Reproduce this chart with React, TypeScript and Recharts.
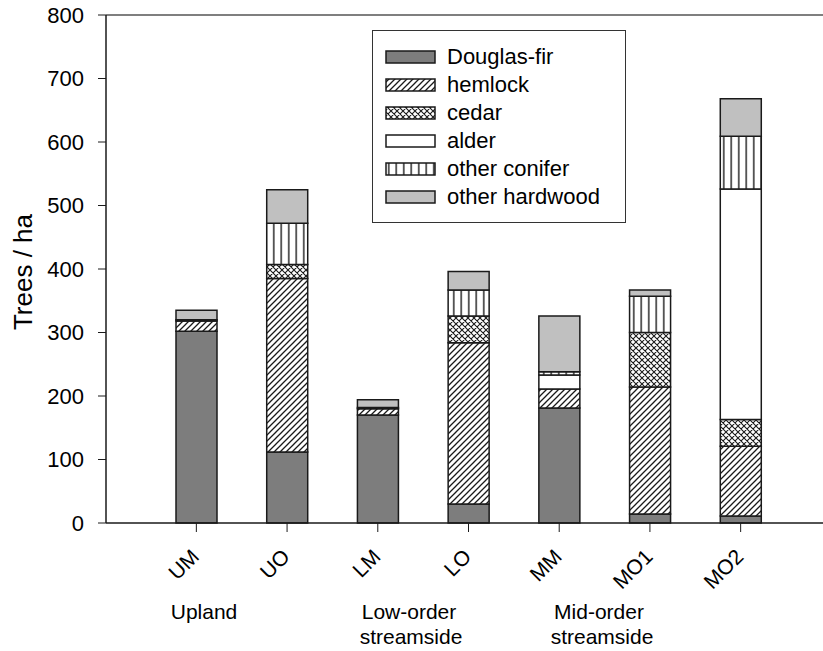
import { Bar, BarChart, ReferenceLine, XAxis, YAxis } from "recharts";

const sites = ["UM", "UO", "LM", "LO", "MM", "MO1", "MO2"];
const douglasFir = [302, 112, 170, 30, 181, 14, 11];
const hemlock = [16, 273, 10, 254, 30, 200, 110];
const cedar = [0, 22, 0, 42, 0, 86, 42];
const alder = [0, 0, 0, 0, 22, 0, 363];
const otherConifer = [2, 65, 2, 41, 5, 57, 83];
const otherHardwood = [15, 53, 12, 29, 88, 10, 59];
const yTicks = [0, 100, 200, 300, 400, 500, 600, 700, 800];

const SERIES = [
  { key: "df", name: "Douglas-fir", values: douglasFir, fill: "#7d7d7d" },
  { key: "hem", name: "hemlock", values: hemlock, fill: "url(#hatch)" },
  { key: "ced", name: "cedar", values: cedar, fill: "url(#cross)" },
  { key: "ald", name: "alder", values: alder, fill: "#ffffff" },
  { key: "con", name: "other conifer", values: otherConifer, fill: "url(#vert)" },
  { key: "hw", name: "other hardwood", values: otherHardwood, fill: "#c0c0c0" },
];

const data = sites.map((site, i) => {
  const row: Record<string, string | number> = { site };
  SERIES.forEach((s) => {
    row[s.key] = s.values[i];
  });
  return row;
});

const FONT = "'Liberation Sans', Arial, sans-serif";
const INK = "#1a1a1a";

function Patterns() {
  return (
    <svg width={0} height={0} style={{ position: "absolute" }}>
      <defs>
        <pattern id="hatch" patternUnits="userSpaceOnUse" width={6} height={6}>
          <rect width={6} height={6} fill="#fff" />
          <path d="M0,6 L6,0 M-1.5,1.5 L1.5,-1.5 M4.5,7.5 L7.5,4.5" stroke={INK} strokeWidth={1.3} />
        </pattern>
        <pattern id="cross" patternUnits="userSpaceOnUse" width={6} height={6}>
          <rect width={6} height={6} fill="#fff" />
          <path d="M0,6 L6,0 M-1.5,1.5 L1.5,-1.5 M4.5,7.5 L7.5,4.5 M0,0 L6,6 M-1.5,4.5 L1.5,7.5 M4.5,-1.5 L7.5,1.5" stroke={INK} strokeWidth={1.1} />
        </pattern>
        <pattern id="vert" patternUnits="userSpaceOnUse" width={7.5} height={8}>
          <rect width={7.5} height={8} fill="#fff" />
          <path d="M3.75,0 L3.75,8" stroke={INK} strokeWidth={1.4} />
        </pattern>
      </defs>
    </svg>
  );
}

function SiteTick(props: any) {
  const { x, y, payload } = props;
  const ax = x + 4;
  const ay = y + 24;
  return (
    <text
      x={ax}
      y={ay}
      transform={`rotate(-45, ${ax}, ${ay})`}
      textAnchor="end"
      fontSize={21}
      fontFamily={FONT}
      fill="#000"
    >
      {payload.value}
    </text>
  );
}

function LegendBox() {
  return (
    <div
      style={{
        position: "absolute",
        left: 372,
        top: 30,
        width: 254,
        height: 193,
        boxSizing: "border-box",
        border: "1.5px solid #333",
        background: "#fff",
        fontFamily: FONT,
        fontSize: 22,
      }}
    >
      {SERIES.map((s, i) => (
        <div
          key={s.key}
          style={{ position: "absolute", left: 12, top: 12 + i * 28, height: 28, display: "flex", alignItems: "center" }}
        >
          <svg width={52} height={16}>
            <rect x={1} y={2} width={49} height={12} fill={s.fill} stroke={INK} strokeWidth={1.5} />
          </svg>
          <span style={{ marginLeft: 10, whiteSpace: "nowrap", color: "#000" }}>{s.name}</span>
        </div>
      ))}
    </div>
  );
}

export default function App() {
  return (
    <div style={{ position: "absolute", left: 0, top: 0, width: 823, height: 651, overflow: "hidden", background: "#fff" }}>
      <Patterns />
      <BarChart
        width={860}
        height={651}
        data={data}
        margin={{ top: 15, right: 29, left: 6, bottom: 98 }}
        barSize={41}
      >
        <XAxis
          dataKey="site"
          interval={0}
          padding={{ left: 45, right: 45 }}
          height={30}
          tick={<SiteTick />}
          tickSize={9}
          tickLine={{ stroke: INK }}
          axisLine={{ stroke: INK, strokeWidth: 1.5 }}
        />
        <YAxis
          width={100}
          domain={[0, 800]}
          ticks={yTicks}
          interval={0}
          tickSize={8}
          tickMargin={14}
          tick={{ fontSize: 22, fontFamily: FONT, fill: "#000" }}
          tickLine={{ stroke: INK }}
          axisLine={{ stroke: INK, strokeWidth: 1.5 }}
        />
        <ReferenceLine y={800} stroke="#555" strokeWidth={1.5} />
        {SERIES.map((s) => (
          <Bar
            key={s.key}
            dataKey={s.key}
            name={s.name}
            stackId="trees"
            fill={s.fill}
            stroke={INK}
            strokeWidth={1.5}
            isAnimationActive={false}
          />
        ))}
      </BarChart>
      <svg width={823} height={651} style={{ position: "absolute", left: 0, top: 0, pointerEvents: "none" }}>
        <text
          x={32}
          y={272}
          transform="rotate(-90, 32, 272)"
          textAnchor="middle"
          fontSize={26}
          fontFamily={FONT}
          fill="#000"
        >
          Trees / ha
        </text>
        <g fontSize={21} fontFamily={FONT} fill="#000" textAnchor="middle">
          <text x={204} y={619}>Upland</text>
          <text x={409} y={619}>Low-order</text>
          <text x={411} y={644}>streamside</text>
          <text x={599} y={619}>Mid-order</text>
          <text x={602} y={644}>streamside</text>
        </g>
      </svg>
      <LegendBox />
    </div>
  );
}
